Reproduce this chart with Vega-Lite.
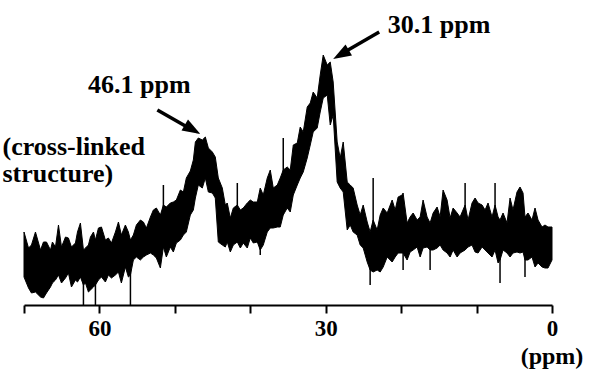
{
  "$schema": "https://vega.github.io/schema/vega-lite/v6.json",
  "width": 528,
  "height": 305,
  "autosize": {"type": "none"},
  "padding": {"left": 24, "right": 38, "top": 0, "bottom": 67},
  "background": "white",
  "config": {"view": {"stroke": null}},
  "datasets": {
    "band": [
      {"ppm":70.0,"hi":73,"lo":28},{"ppm":69.4,"hi":57,"lo":17},{"ppm":69.01,"hi":60,"lo":12},{"ppm":68.48,"hi":73,"lo":13},
      {"ppm":67.81,"hi":55,"lo":8},{"ppm":67.42,"hi":63,"lo":7},{"ppm":67.02,"hi":63,"lo":12},{"ppm":66.49,"hi":55,"lo":18},
      {"ppm":66.23,"hi":63,"lo":22},{"ppm":65.83,"hi":58,"lo":25},{"ppm":65.43,"hi":80,"lo":30},{"ppm":65.03,"hi":58,"lo":22},
      {"ppm":64.5,"hi":68,"lo":27},{"ppm":64.11,"hi":67,"lo":32},{"ppm":63.71,"hi":58,"lo":18},{"ppm":63.18,"hi":62,"lo":25},
      {"ppm":62.91,"hi":73,"lo":23},{"ppm":62.52,"hi":82,"lo":28},{"ppm":62.12,"hi":55,"lo":20},{"ppm":61.85,"hi":57,"lo":22},
      {"ppm":61.46,"hi":60,"lo":13},{"ppm":61.19,"hi":68,"lo":15},{"ppm":60.79,"hi":73,"lo":18},{"ppm":60.53,"hi":65,"lo":20},
      {"ppm":60.13,"hi":77,"lo":25},{"ppm":59.73,"hi":78,"lo":28},{"ppm":59.21,"hi":65,"lo":23},{"ppm":58.81,"hi":67,"lo":30},
      {"ppm":58.41,"hi":62,"lo":27},{"ppm":57.88,"hi":73,"lo":30},{"ppm":57.48,"hi":83,"lo":33},{"ppm":57.09,"hi":70,"lo":22},
      {"ppm":56.56,"hi":80,"lo":38},{"ppm":56.16,"hi":73,"lo":28},{"ppm":55.89,"hi":65,"lo":30},{"ppm":55.5,"hi":70,"lo":45},
      {"ppm":55.1,"hi":80,"lo":48},{"ppm":54.57,"hi":85,"lo":45},{"ppm":54.17,"hi":83,"lo":48},{"ppm":53.77,"hi":77,"lo":50},
      {"ppm":53.24,"hi":88,"lo":52},{"ppm":52.85,"hi":95,"lo":50},{"ppm":52.45,"hi":97,"lo":47},{"ppm":51.92,"hi":90,"lo":37},
      {"ppm":51.52,"hi":100,"lo":58},{"ppm":51.13,"hi":98,"lo":48},{"ppm":50.6,"hi":102,"lo":58},{"ppm":50.2,"hi":103,"lo":53},
      {"ppm":49.8,"hi":105,"lo":62},{"ppm":49.27,"hi":115,"lo":65},{"ppm":48.87,"hi":113,"lo":70},{"ppm":48.48,"hi":127,"lo":73},
      {"ppm":47.95,"hi":134,"lo":90},{"ppm":47.55,"hi":145,"lo":95},{"ppm":47.28,"hi":163,"lo":107},{"ppm":46.89,"hi":167,"lo":120},
      {"ppm":46.36,"hi":165,"lo":117},{"ppm":45.96,"hi":168,"lo":127},{"ppm":45.56,"hi":157,"lo":113},{"ppm":45.03,"hi":153,"lo":112},
      {"ppm":44.64,"hi":148,"lo":107},{"ppm":44.24,"hi":127,"lo":63},{"ppm":43.71,"hi":117,"lo":60},{"ppm":43.31,"hi":100,"lo":58},
      {"ppm":43.05,"hi":102,"lo":63},{"ppm":42.65,"hi":87,"lo":53},{"ppm":42.25,"hi":97,"lo":60},{"ppm":41.72,"hi":100,"lo":63},
      {"ppm":41.32,"hi":95,"lo":57},{"ppm":40.93,"hi":97,"lo":62},{"ppm":40.4,"hi":102,"lo":57},{"ppm":40.0,"hi":105,"lo":67},
      {"ppm":39.6,"hi":103,"lo":62},{"ppm":39.07,"hi":103,"lo":63},{"ppm":38.68,"hi":117,"lo":55},{"ppm":38.28,"hi":110,"lo":60},
      {"ppm":37.75,"hi":127,"lo":73},{"ppm":37.35,"hi":135,"lo":77},{"ppm":36.95,"hi":117,"lo":77},{"ppm":36.42,"hi":120,"lo":78},
      {"ppm":36.03,"hi":127,"lo":78},{"ppm":35.63,"hi":135,"lo":90},{"ppm":35.1,"hi":138,"lo":97},{"ppm":34.7,"hi":135,"lo":93},
      {"ppm":34.3,"hi":160,"lo":110},{"ppm":33.77,"hi":162,"lo":120},{"ppm":33.38,"hi":178,"lo":127},{"ppm":32.98,"hi":173,"lo":133},
      {"ppm":32.45,"hi":198,"lo":147},{"ppm":32.05,"hi":202,"lo":160},{"ppm":31.66,"hi":213,"lo":173},{"ppm":31.13,"hi":207,"lo":177},
      {"ppm":30.73,"hi":230,"lo":193},{"ppm":30.33,"hi":250,"lo":207},{"ppm":29.8,"hi":240,"lo":210},{"ppm":29.4,"hi":243,"lo":180},
      {"ppm":29.01,"hi":223,"lo":190},{"ppm":28.48,"hi":163,"lo":123},{"ppm":28.08,"hi":147,"lo":117},{"ppm":27.68,"hi":163,"lo":113},
      {"ppm":27.15,"hi":123,"lo":75},{"ppm":26.75,"hi":120,"lo":80},{"ppm":26.36,"hi":117,"lo":73},{"ppm":25.83,"hi":100,"lo":70},
      {"ppm":25.43,"hi":90,"lo":60},{"ppm":25.03,"hi":100,"lo":57},{"ppm":24.5,"hi":83,"lo":43},{"ppm":24.11,"hi":73,"lo":35},
      {"ppm":23.71,"hi":85,"lo":33},{"ppm":23.18,"hi":75,"lo":35},{"ppm":22.78,"hi":90,"lo":33},{"ppm":22.38,"hi":97,"lo":38},
      {"ppm":21.85,"hi":92,"lo":48},{"ppm":21.19,"hi":105,"lo":43},{"ppm":20.79,"hi":95,"lo":48},{"ppm":20.4,"hi":108,"lo":52},
      {"ppm":19.87,"hi":110,"lo":52},{"ppm":19.74,"hi":112,"lo":52},{"ppm":19.21,"hi":82,"lo":45},{"ppm":18.81,"hi":88,"lo":53},
      {"ppm":18.41,"hi":92,"lo":55},{"ppm":17.88,"hi":85,"lo":58},{"ppm":17.48,"hi":88,"lo":48},{"ppm":17.09,"hi":105,"lo":57},
      {"ppm":16.56,"hi":88,"lo":58},{"ppm":16.16,"hi":82,"lo":55},{"ppm":15.76,"hi":92,"lo":55},{"ppm":15.23,"hi":98,"lo":57},
      {"ppm":14.83,"hi":88,"lo":60},{"ppm":14.44,"hi":115,"lo":55},{"ppm":13.91,"hi":105,"lo":52},{"ppm":13.51,"hi":87,"lo":48},
      {"ppm":13.11,"hi":97,"lo":55},{"ppm":12.58,"hi":92,"lo":48},{"ppm":12.19,"hi":88,"lo":52},{"ppm":11.52,"hi":100,"lo":55},
      {"ppm":11.13,"hi":85,"lo":58},{"ppm":10.6,"hi":102,"lo":60},{"ppm":10.2,"hi":107,"lo":53},{"ppm":9.8,"hi":102,"lo":52},
      {"ppm":9.27,"hi":100,"lo":58},{"ppm":8.87,"hi":95,"lo":55},{"ppm":8.48,"hi":102,"lo":52},{"ppm":7.95,"hi":88,"lo":48},
      {"ppm":7.55,"hi":100,"lo":55},{"ppm":7.15,"hi":88,"lo":42},{"ppm":6.89,"hi":85,"lo":45},{"ppm":6.49,"hi":92,"lo":55},
      {"ppm":5.96,"hi":82,"lo":52},{"ppm":5.56,"hi":107,"lo":48},{"ppm":5.17,"hi":95,"lo":52},{"ppm":4.64,"hi":113,"lo":53},
      {"ppm":4.24,"hi":118,"lo":52},{"ppm":3.84,"hi":112,"lo":53},{"ppm":3.58,"hi":88,"lo":45},{"ppm":3.18,"hi":92,"lo":45},
      {"ppm":2.65,"hi":85,"lo":48},{"ppm":2.25,"hi":97,"lo":38},{"ppm":1.85,"hi":85,"lo":42},{"ppm":1.32,"hi":78,"lo":38},
      {"ppm":0.93,"hi":80,"lo":37},{"ppm":0.53,"hi":78,"lo":37},{"ppm":0.0,"hi":78,"lo":45}
    ],
    "spikes": [
      {"ppm":62.12,"hi":25,"lo":0},{"ppm":60.53,"hi":25,"lo":0},{"ppm":55.89,"hi":35,"lo":0},
      {"ppm":51.52,"hi":120,"lo":90},{"ppm":41.72,"hi":122,"lo":90},{"ppm":38.68,"hi":80,"lo":50},
      {"ppm":35.63,"hi":167,"lo":130},{"ppm":24.11,"hi":50,"lo":20},{"ppm":23.71,"hi":127,"lo":80},
      {"ppm":19.74,"hi":60,"lo":35},{"ppm":16.16,"hi":60,"lo":35},{"ppm":11.52,"hi":122,"lo":95},
      {"ppm":7.55,"hi":122,"lo":95},{"ppm":6.89,"hi":60,"lo":22},{"ppm":3.58,"hi":60,"lo":28}
    ],
    "shafts": [
      {"ppm":52.32,"i":195,"ppm2":47.68,"i2":175},
      {"ppm":22.91,"i":273,"ppm2":27.95,"i2":251}
    ],
    "centered": [
      {"ppm":54.7,"i":212,"t":"46.1 ppm"},
      {"ppm":14.97,"i":272,"t":"30.1 ppm"}
    ],
    "unit": [
      {"ppm":0,"i":-59,"t":"(ppm)"}
    ],
    "lefttext": [
      {"ppm":72.85,"i":150,"t":"(cross-linked"},
      {"ppm":72.85,"i":123,"t":"structure)"}
    ]
  },
  "encoding": {
    "x": {"field":"ppm","type":"quantitative","scale":{"domain":[0,70],"reverse":true,"nice":false,"zero":false},
      "axis":{"values":[70,60,50,40,30,20,10,0],"labelExpr":"datum.value % 30 === 0 ? datum.label : ''","title":null,"grid":false,
        "domainColor":"black","domainWidth":2,"tickColor":"black","tickWidth":2,"tickSize":8,
        "labelFont":"Liberation Serif","labelFontWeight":"bold","labelFontSize":23,"labelColor":"black","labelPadding":4,
        "labelFlush":false,"labelOverlap":false}}
  },
  "layer": [
    {
      "data": {"name":"band"},
      "mark": {"type":"area","color":"black","stroke":"black","strokeWidth":1,"interpolate":"linear"},
      "encoding": {
        "y": {"field":"hi","type":"quantitative","scale":{"domain":[0,305],"nice":false,"zero":false},"axis":null},
        "y2": {"field":"lo"}
      }
    },
    {
      "data": {"name":"spikes"},
      "mark": {"type":"rule","color":"black","strokeWidth":1.5},
      "encoding": {
        "y": {"field":"hi","type":"quantitative","scale":{"domain":[0,305],"nice":false,"zero":false},"axis":null},
        "y2": {"field":"lo"}
      }
    },
    {
      "data": {"name":"shafts"},
      "mark": {"type":"rule","color":"black","strokeWidth":3.5},
      "encoding": {
        "x2": {"field":"ppm2"},
        "y": {"field":"i","type":"quantitative","scale":{"domain":[0,305],"nice":false,"zero":false},"axis":null},
        "y2": {"field":"i2"}
      }
    },
    {
      "data": {"values":[{"ppm":46.62,"i":171}]},
      "mark": {"type":"point","filled":true,"color":"black","opacity":1,"shape":"M0,0L0.36,1L-0.36,1Z","size":1296,"angle":120},
      "encoding": {
        "y": {"field":"i","type":"quantitative","scale":{"domain":[0,305],"nice":false,"zero":false},"axis":null}
      }
    },
    {
      "data": {"values":[{"ppm":29.01,"i":246}]},
      "mark": {"type":"point","filled":true,"color":"black","opacity":1,"shape":"M0,0L0.36,1L-0.36,1Z","size":1296,"angle":240},
      "encoding": {
        "y": {"field":"i","type":"quantitative","scale":{"domain":[0,305],"nice":false,"zero":false},"axis":null}
      }
    },
    {
      "data": {"name":"centered"},
      "mark": {"type":"text","font":"Liberation Serif","fontWeight":"bold","fontSize":26,"color":"black","align":"center","baseline":"alphabetic"},
      "encoding": {
        "y": {"field":"i","type":"quantitative","scale":{"domain":[0,305],"nice":false,"zero":false},"axis":null},
        "text": {"field":"t"}
      }
    },
    {
      "data": {"name":"unit"},
      "mark": {"type":"text","font":"Liberation Serif","fontWeight":"bold","fontSize":24,"color":"black","align":"center","baseline":"alphabetic"},
      "encoding": {
        "y": {"field":"i","type":"quantitative","scale":{"domain":[0,305],"nice":false,"zero":false},"axis":null},
        "text": {"field":"t"}
      }
    },
    {
      "data": {"name":"lefttext"},
      "mark": {"type":"text","font":"Liberation Serif","fontWeight":"bold","fontSize":26,"color":"black","align":"left","baseline":"alphabetic"},
      "encoding": {
        "y": {"field":"i","type":"quantitative","scale":{"domain":[0,305],"nice":false,"zero":false},"axis":null},
        "text": {"field":"t"}
      }
    }
  ]
}
